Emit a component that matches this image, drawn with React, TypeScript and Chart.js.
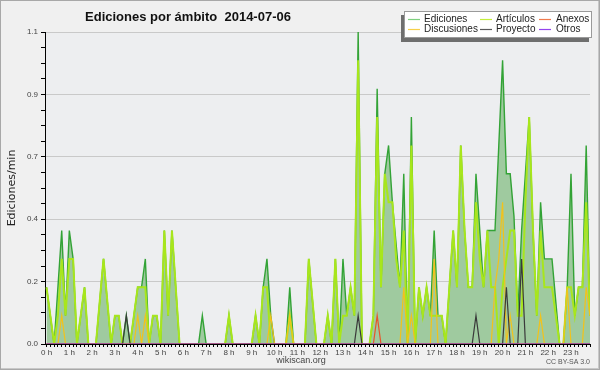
import { useEffect, useRef } from 'react';
import { Chart, registerables } from 'chart.js';

Chart.register(...registerables);

// 10-minute slots, 0 = 00:00 ... 143 = 23:50
const HOUR_LABELS = ['0 h','1 h','2 h','3 h','4 h','5 h','6 h','7 h','8 h','9 h','10 h','11 h','12 h','13 h','14 h','15 h','16 h','17 h','18 h','19 h','20 h','21 h','22 h','23 h'];

// Ediciones/min per 10-minute slot
const EDICIONES = [
  0.2,0.1,0,0.2,0.4,0.1,0.4,0.3,0,0.1,
  0.2,0,0,0,0.15,0.3,0.15,0,0.1,0.1,
  0,0.1,0,0.1,0.2,0.2,0.3,0,0.1,0.1,
  0,0.4,0.1,0.4,0.2,0,0,0,0,0,
  0,0.1,0,0,0,0,0,0,0.1,0,
  0,0,0,0,0,0.1,0,0.2,0.3,0.1,
  0,0,0,0,0.2,0,0,0,0,0.3,
  0.15,0,0,0,0.1,0,0.3,0,0.3,0.1,
  0.2,0.1,1.1,0,0,0,0.1,0.9,0.2,0.6,
  0.7,0.5,0.35,0.2,0.6,0,0.8,0,0.2,0.1,
  0.2,0.1,0.4,0.1,0.1,0,0.2,0.4,0.2,0.7,
  0.4,0.2,0.2,0.6,0.4,0.2,0.4,0.4,0.4,0.7,
  1.0,0.6,0.6,0.45,0.1,0.4,0.6,0.8,0.4,0.1,
  0.5,0.3,0.3,0.3,0.15,0,0,0.2,0.6,0.1,
  0.2,0.2,0.7,0.1,
];

const ARTICULOS = [
  0.2,0.1,0,0.1,0.3,0.1,0.3,0.3,0,0.1,
  0.2,0,0,0,0.15,0.3,0.15,0,0.1,0.1,
  0,0,0,0.1,0.2,0.2,0.2,0,0.1,0.1,
  0,0.4,0.1,0.4,0.2,0,0,0,0,0,
  0,0,0,0,0,0,0,0,0.1,0,
  0,0,0,0,0,0.1,0,0.2,0.2,0,
  0,0,0,0,0.1,0,0,0,0,0.3,
  0.15,0,0,0,0.1,0,0.3,0,0.1,0.1,
  0.2,0.1,1.0,0,0,0,0.1,0.8,0.2,0.6,
  0.5,0.5,0.3,0.2,0.4,0,0.7,0,0.2,0.1,
  0.2,0.1,0.1,0.1,0.1,0,0.2,0.4,0.2,0.7,
  0.4,0.2,0.2,0.5,0.3,0.2,0.4,0.2,0.2,0,
  0.2,0.3,0.4,0.4,0.1,0.1,0.5,0.8,0.4,0.1,
  0.4,0.2,0.2,0.2,0.1,0,0,0.2,0.2,0.1,
  0.2,0.2,0.5,0.1,
];

const ANEXOS = [
  0,0,0,0,0,0,0,0,0,0,
  0,0,0,0,0,0,0,0,0,0,
  0,0,0,0,0,0,0,0,0,0,
  0,0,0,0,0,0,0,0,0,0,
  0,0,0,0,0,0,0,0,0,0,
  0,0,0,0,0,0,0,0,0,0,
  0,0,0,0,0,0,0,0,0,0,
  0,0,0,0,0,0,0,0,0,0,
  0,0,0,0,0,0,0,0.1,0,0,
  0,0,0,0,0,0,0,0,0,0,
  0,0,0,0,0,0,0,0,0,0,
  0,0,0,0,0,0,0,0,0,0,
  0,0,0,0,0,0,0,0,0,0,
  0,0,0,0,0,0,0,0,0,0,
  0,0,0,0,
];

const DISCUSIONES = [
  0,0,0,0,0.1,0,0,0,0,0,
  0,0,0,0,0,0,0,0,0,0,
  0,0,0,0,0.1,0,0.1,0,0,0,
  0,0,0,0,0,0,0,0,0,0,
  0,0,0,0,0,0,0,0,0,0,
  0,0,0,0,0,0,0,0,0,0.1,
  0,0,0,0,0.1,0,0,0,0,0,
  0,0,0,0,0,0,0,0,0,0,
  0,0,0,0,0,0,0,0,0,0,
  0,0,0,0,0.2,0,0.1,0,0,0,
  0,0,0.3,0,0,0,0,0,0,0,
  0,0,0,0,0,0,0,0,0.2,0.3,
  0.5,0,0.1,0,0,0,0,0,0,0,
  0.1,0,0,0,0,0,0,0.2,0,0,
  0,0,0.2,0.1,
];

const PROYECTO = [
  0,0,0,0,0,0,0,0,0,0,
  0,0,0,0,0,0,0,0,0,0,
  0,0.1,0,0,0,0,0,0,0,0,
  0,0,0,0,0,0,0,0,0,0,
  0,0,0,0,0,0,0,0,0,0,
  0,0,0,0,0,0,0,0,0,0,
  0,0,0,0,0,0,0,0,0,0,
  0,0,0,0,0,0,0,0,0,0,
  0,0,0.1,0,0,0,0,0,0,0,
  0,0,0,0,0,0,0,0,0,0,
  0,0,0,0,0,0,0,0,0,0,
  0,0,0,0.1,0,0,0,0,0,0,
  0,0.2,0,0,0,0.3,0,0,0,0,
  0,0,0,0,0,0,0,0,0,0,
  0,0,0,0,
];

const OTROS = [
  0,0,0,0,0,0,0,0,0,0,
  0,0,0,0,0,0,0,0,0,0,
  0,0,0,0,0,0,0,0,0,0,
  0,0,0,0,0,0,0,0,0,0,
  0,0,0,0,0,0,0,0,0,0,
  0,0,0,0,0,0,0,0,0,0,
  0,0,0,0,0,0,0,0,0,0,
  0,0,0,0,0,0,0,0,0,0,
  0,0,0,0,0,0,0,0,0,0,
  0,0,0,0,0,0,0,0,0,0,
  0,0,0,0,0,0,0,0,0,0,
  0,0,0,0,0,0,0,0,0,0,
  0,0,0,0,0,0,0,0,0,0,
  0,0,0,0,0,0,0,0,0,0,
  0,0,0,0,
];

const Y_MAX = 1.1;
const Y_STEP = 0.22;
const Y_MINOR_PER_MAJOR = 4;

const TITLE = 'Ediciones por ámbito  2014-07-06';
const Y_TITLE = 'Ediciones/min';

const LEGEND = [
  { label: 'Ediciones', color: '#7fd07f', col: 0, row: 0 },
  { label: 'Artículos', color: '#c4ee3c', col: 1, row: 0 },
  { label: 'Anexos', color: '#f07a4e', col: 2, row: 0 },
  { label: 'Discusiones', color: '#f6d04a', col: 0, row: 1 },
  { label: 'Proyecto', color: '#5a5a5a', col: 1, row: 1 },
  { label: 'Otros', color: '#9444ee', col: 2, row: 1 },
];

const toPts = (arr: number[]) => arr.map((v, i) => ({ x: i, y: v }));

export default function App() {
  const ref = useRef<HTMLCanvasElement | null>(null);

  useEffect(() => {
    document.body.style.margin = '0';
    const canvas = ref.current;
    if (!canvas) return;

    const decor = {
      id: 'decor',
      beforeDraw(chart: any) {
        const { ctx, chartArea } = chart;
        ctx.save();
        ctx.fillStyle = '#f0f0f0';
        ctx.fillRect(0, 0, 600, 370);
        ctx.fillStyle = '#edeef0';
        ctx.fillRect(chartArea.left, chartArea.top, chartArea.right - chartArea.left, chartArea.bottom - chartArea.top);
        ctx.restore();
      },
      afterDraw(chart: any) {
        const { ctx } = chart;
        ctx.save();
        // outer border
        ctx.strokeStyle = '#a8a8a8';
        ctx.lineWidth = 1;
        ctx.strokeRect(0.5, 0.5, 599, 369);
        ctx.strokeStyle = '#c8c8c8';
        ctx.beginPath();
        ctx.moveTo(598.5, 1); ctx.lineTo(598.5, 369);
        ctx.moveTo(1, 368.5); ctx.lineTo(599, 368.5);
        ctx.stroke();

        // title
        ctx.fillStyle = '#111';
        ctx.font = 'bold 13px "Liberation Sans"';
        ctx.textAlign = 'center';
        ctx.textBaseline = 'middle';
        ctx.fillText(TITLE, 188, 17);

        // y title
        ctx.save();
        ctx.translate(12, 188);
        ctx.rotate(-Math.PI / 2);
        ctx.font = '11px "DejaVu Sans"';
        ctx.fillStyle = '#222';
        ctx.fillText(Y_TITLE, 0, 0);
        ctx.restore();

        // legend
        ctx.fillStyle = '#6e6e6e';
        ctx.fillRect(401, 15, 188, 27);
        ctx.fillStyle = '#ffffff';
        ctx.fillRect(404, 11, 188, 27);
        ctx.strokeStyle = '#9a9a9a';
        ctx.strokeRect(404.5, 11.5, 187, 26);
        const colLine = [408, 480, 539];
        const colText = [424, 496, 556];
        const rowY = [19.5, 29.5];
        ctx.font = '10px "Liberation Sans"';
        ctx.textAlign = 'left';
        ctx.textBaseline = 'middle';
        LEGEND.forEach((e) => {
          const y = rowY[e.row];
          ctx.strokeStyle = e.color;
          ctx.lineWidth = 1.2;
          ctx.beginPath();
          ctx.moveTo(colLine[e.col], y);
          ctx.lineTo(colLine[e.col] + 12, y);
          ctx.stroke();
          ctx.fillStyle = '#222';
          ctx.fillText(e.label, colText[e.col], y);
        });

        // footer
        ctx.textAlign = 'center';
        ctx.fillStyle = '#444';
        ctx.font = '9px "Liberation Sans"';
        ctx.fillText('wikiscan.org', 301, 361);
        ctx.textAlign = 'right';
        ctx.fillStyle = '#555';
        ctx.font = '7px "Liberation Sans"';
        ctx.fillText('CC BY-SA 3.0', 590, 362);
        ctx.restore();
      },
    };

    const chart = new Chart(canvas, {
      type: 'line',
      data: {
        datasets: [
          { label: 'Otros', data: toPts(OTROS), borderColor: '#9444ee', borderWidth: 1, pointRadius: 0, fill: false, order: 1 },
          { label: 'Anexos', data: toPts(ANEXOS), borderColor: '#e8542a', borderWidth: 1.2, pointRadius: 0, fill: false, order: 2 },
          { label: 'Proyecto', data: toPts(PROYECTO), borderColor: '#3a3a3a', borderWidth: 1.2, pointRadius: 0, fill: false, order: 3 },
          { label: 'Discusiones', data: toPts(DISCUSIONES), borderColor: '#f2c21b', borderWidth: 1.2, pointRadius: 0, fill: false, order: 4 },
          { label: 'Artículos', data: toPts(ARTICULOS), borderColor: '#a8e61c', borderWidth: 2, pointRadius: 0, fill: false, order: 5 },
          { label: 'Ediciones', data: toPts(EDICIONES), borderColor: '#33a336', backgroundColor: '#9fca9f', borderWidth: 1.4, pointRadius: 0, fill: 'origin', order: 6 },
        ],
      },
      options: {
        responsive: false,
        animation: false,
        devicePixelRatio: 1,
        events: [],
        layout: { padding: { top: 32, right: 10, left: 0, bottom: 0 } },
        plugins: { legend: { display: false }, title: { display: false }, tooltip: { enabled: false } },
        elements: { line: { tension: 0 } },
        scales: {
          x: {
            type: 'linear',
            min: -0.4,
            max: EDICIONES.length - 1,
            afterBuildTicks: (s: any) => {
              s.ticks = EDICIONES.map((_, i) => ({ value: i }));
            },
            afterFit: (s: any) => { s.height = 26; },
            ticks: {
              autoSkip: false,
              maxRotation: 0,
              minRotation: 0,
              padding: 1,
              color: '#444',
              font: { family: '"Liberation Sans"', size: 8 },
              callback: (v: any) => (v % 6 === 0 ? HOUR_LABELS[v / 6] : ''),
            },
            grid: { drawOnChartArea: false, drawTicks: true, tickLength: 3, tickColor: '#000', color: '#000' },
            border: { display: true, color: '#000', width: 1 },
          },
          y: {
            type: 'linear',
            min: 0,
            max: Y_MAX,
            afterBuildTicks: (s: any) => {
              const n = Math.round(Y_MAX / (Y_STEP / Y_MINOR_PER_MAJOR));
              const t = [];
              for (let k = 0; k <= n; k++) t.push({ value: Math.round(k * (Y_STEP / Y_MINOR_PER_MAJOR) * 10000) / 10000 });
              s.ticks = t;
            },
            afterFit: (s: any) => { s.width = 45; },
            ticks: {
              autoSkip: false,
              padding: 3,
              color: '#444',
              font: { family: '"Liberation Sans"', size: 8 },
              callback: (v: any, i: number) => (i % Y_MINOR_PER_MAJOR === 0 ? Number(v).toFixed(1) : ''),
            },
            grid: {
              drawTicks: true,
              tickLength: 4,
              tickColor: '#000',
              color: (c: any) => (c.index % Y_MINOR_PER_MAJOR === 0 && c.index > 0 ? '#c9c9c9' : 'rgba(0,0,0,0)'),
            },
            border: { display: true, color: '#000', width: 1 },
          },
        },
      },
      plugins: [decor],
    } as any);

    return () => chart.destroy();
  }, []);

  return <canvas ref={ref} width={600} height={370} style={{ display: 'block', width: 600, height: 370 }} />;
}
